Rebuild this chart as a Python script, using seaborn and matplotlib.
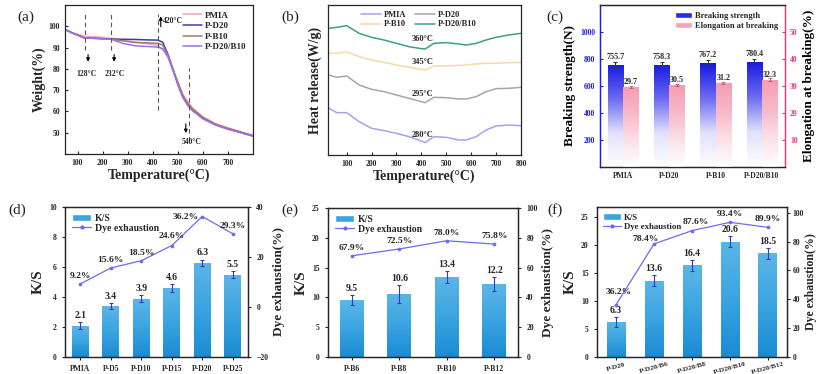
import numpy as np
import pandas as pd
import matplotlib
matplotlib.use('Agg')
import matplotlib.pyplot as plt
import seaborn as sns
from matplotlib.colors import LinearSegmentedColormap
from matplotlib.patches import Patch
from matplotlib.lines import Line2D

# ------------------------- data -------------------------
series_names = ['PMIA', 'P-D20', 'P-B10', 'P-D20/B10']

# (a) TGA
tga_temp = [50, 80, 128, 180, 232, 280, 330, 380, 420, 440, 460, 480, 500, 520, 540, 560, 600, 650, 700, 750, 800]
tga_pmia = [98.5, 97.0, 95.3, 95.0, 94.4, 93.5, 92.5, 91.8, 91.0, 89.0, 85.5, 80.0, 74.0, 68.0, 64.5, 61.5, 57.5, 54.3, 52.3, 50.5, 48.7]
tga_d20 = [98.5, 96.8, 94.5, 94.3, 94.0, 93.9, 93.8, 93.6, 93.5, 92.5, 87.0, 80.0, 73.0, 67.0, 63.0, 60.5, 56.8, 53.8, 51.8, 50.2, 48.5]
tga_b10 = [98.5, 96.8, 94.5, 94.3, 94.0, 93.2, 92.4, 92.2, 92.0, 91.2, 86.5, 80.0, 73.5, 67.5, 63.8, 61.0, 57.2, 54.0, 52.0, 50.3, 48.6]
tga_d20b10 = [98.5, 96.8, 94.5, 94.3, 94.0, 92.0, 90.8, 90.5, 90.2, 89.5, 86.0, 79.5, 72.5, 66.5, 62.8, 60.2, 56.5, 53.6, 51.6, 50.0, 48.3]

# (b) DSC heat release (arbitrary offset units)
dsc_temp = [30, 60, 100, 150, 200, 250, 300, 350, 400, 415, 450, 500, 550, 580, 620, 660, 700, 750, 800]
dsc_pmia = [1.45, 1.32, 1.32, 1.05, 0.85, 0.78, 0.70, 0.60, 0.47, 0.42, 0.60, 0.58, 0.50, 0.50, 0.60, 0.80, 0.92, 0.95, 0.93]
dsc_d20 = [2.45, 2.38, 2.42, 2.15, 2.02, 1.95, 1.85, 1.75, 1.65, 1.62, 1.78, 1.77, 1.73, 1.73, 1.80, 1.95, 2.04, 2.05, 2.08]
dsc_b10 = [3.10, 3.10, 3.15, 3.00, 2.90, 2.83, 2.75, 2.68, 2.62, 2.60, 2.72, 2.72, 2.74, 2.75, 2.78, 2.80, 2.80, 2.82, 2.83]
dsc_d20b10 = [3.85, 3.88, 3.93, 3.70, 3.58, 3.50, 3.40, 3.30, 3.24, 3.23, 3.40, 3.42, 3.38, 3.35, 3.40, 3.50, 3.58, 3.65, 3.70]
dsc_peak_labels = ['280°C', '295°C', '345°C', '360°C']

# (c) mechanical
c_samples = ['PMIA', 'P-D20', 'P-B10', 'P-D20/B10']
c_strength = [755.7, 758.3, 767.2, 780.4]
c_strength_err = [22, 20, 28, 22]
c_elong = [29.7, 30.5, 31.2, 32.3]
c_elong_err = [0.4, 0.4, 0.4, 0.5]

# (d)
d_samples = ['PMIA', 'P-D5', 'P-D10', 'P-D15', 'P-D20', 'P-D25']
d_ks = [2.1, 3.4, 3.9, 4.6, 6.3, 5.5]
d_ks_err = [0.25, 0.22, 0.22, 0.25, 0.2, 0.25]
d_de = [9.2, 15.6, 18.5, 24.6, 36.2, 29.3]

# (e)
e_samples = ['P-B6', 'P-B8', 'P-B10', 'P-B12']
e_ks = [9.5, 10.6, 13.4, 12.2]
e_ks_err = [0.85, 1.5, 1.0, 1.2]
e_de = [67.9, 72.5, 78.0, 75.8]

# (f)
f_samples = ['P-D20', 'P-D20/B6', 'P-D20/B8', 'P-D20/B10', 'P-D20/B12']
f_ks = [6.3, 13.6, 16.4, 20.6, 18.5]
f_ks_err = [0.9, 1.0, 1.0, 1.0, 1.0]
f_de = [36.2, 78.4, 87.6, 93.4, 89.9]

# ------------------------- style -------------------------
sns.set_style('ticks')
plt.rcParams['font.family'] = ['Liberation Serif', 'DejaVu Serif']
plt.rcParams['font.weight'] = 'bold'
plt.rcParams['axes.labelweight'] = 'bold'
plt.rcParams['axes.linewidth'] = 0.9
plt.rcParams['xtick.labelsize'] = 5.5
plt.rcParams['ytick.labelsize'] = 5.5
plt.rcParams['xtick.major.size'] = 2.5
plt.rcParams['ytick.major.size'] = 2.5
plt.rcParams['xtick.major.width'] = 0.8
plt.rcParams['ytick.major.width'] = 0.8

W, H = 816, 374
fig = plt.figure(figsize=(W / 100, H / 100), dpi=100)


def px_axes(x0, y0, x1, y1):
    return fig.add_axes([x0 / W, 1 - y1 / H, (x1 - x0) / W, (y1 - y0) / H])


def gradient_bars(ax, patches, colors):
    cmap = LinearSegmentedColormap.from_list('g', colors)
    grad = np.linspace(0, 1, 256).reshape(-1, 1)
    for p in patches:
        x0, y0, w, h = p.get_x(), p.get_y(), p.get_width(), p.get_height()
        if not np.isfinite(h) or h == 0:
            continue
        im = ax.imshow(grad, extent=[x0, x0 + w, y0, y0 + h], origin='lower',
                       cmap=cmap, aspect='auto', zorder=p.get_zorder(),
                       interpolation='bilinear')
        im.set_clip_path(p)
        p.set_facecolor('none')
        p.set_edgecolor('none')


TXT = dict(fontweight='bold')

# ------------------------- (a) -------------------------
axa = px_axes(65, 5, 253, 154)
tga_colors = {'PMIA': '#f3a6b6', 'P-D20': '#3b3bab', 'P-B10': '#a07868', 'P-D20/B10': '#9a72e6'}
df_a = pd.DataFrame({
    'T': tga_temp * 4,
    'W': tga_pmia + tga_d20 + tga_b10 + tga_d20b10,
    's': sum([[n] * len(tga_temp) for n in series_names], []),
})
sns.lineplot(data=df_a, x='T', y='W', hue='s', hue_order=series_names, palette=tga_colors,
             linewidth=1.1, ax=axa, legend=False)
axa.set_xlim(50, 800)
axa.set_ylim(40, 110)
axa.set_xticks(range(100, 701, 100))
axa.set_yticks(range(50, 101, 10))
axa.tick_params(direction='in')
axa.set_xlabel('Temperature(°C)', fontsize=10, labelpad=1)
axa.set_ylabel('Weight(%)', fontsize=10, labelpad=2)
dash = dict(color='#555555', linestyle=(0, (4, 3)), linewidth=0.8)
for xv, y0, y1 in [(128, 89, 106), (232, 89, 106), (420, 60.5, 106), (545, 46, 80.5)]:
    axa.plot([xv, xv], [y0, y1], **dash)
arr = dict(arrowstyle='-|>', color='black', lw=0.8, mutation_scale=5)
axa.annotate('', xy=(142, 82), xytext=(142, 88), arrowprops=arr)
axa.annotate('', xy=(246, 82), xytext=(246, 88), arrowprops=arr)
axa.annotate('', xy=(432, 106), xytext=(432, 98.5), arrowprops=arr)
axa.annotate('', xy=(532, 48.5), xytext=(532, 55.5), arrowprops=arr)
axa.text(136, 77.5, '128°C', fontsize=5.5, ha='center', va='center', **TXT)
axa.text(248, 77.5, '232°C', fontsize=5.5, ha='center', va='center', **TXT)
axa.text(440, 102.5, '420°C', fontsize=5.5, ha='left', va='center', **TXT)
axa.text(555, 45.5, '540°C', fontsize=5.5, ha='center', va='center', **TXT)
handles_a = [Line2D([], [], color=tga_colors[n], lw=1.1) for n in series_names]
axa.legend(handles_a, series_names, loc='upper right', frameon=False,
           handlelength=2.2, handletextpad=0.3, labelspacing=0.25, borderaxespad=0.3,
           prop={'weight': 'bold', 'size': 6.5})
fig.text(17 / W, 1 - 17 / H, '(a)', fontsize=11, fontweight='normal', ha='left', va='center')

# ------------------------- (b) -------------------------
axb = px_axes(328, 5, 521, 155)
dsc_colors = {'PMIA': '#a3a3f2', 'P-D20': '#a6a6a6', 'P-B10': '#f7d9a6', 'P-D20/B10': '#3f9d8c'}
df_b = pd.DataFrame({
    'T': dsc_temp * 4,
    'Q': dsc_pmia + dsc_d20 + dsc_b10 + dsc_d20b10,
    's': sum([[n] * len(dsc_temp) for n in series_names], []),
})
sns.lineplot(data=df_b, x='T', y='Q', hue='s', hue_order=series_names, palette=dsc_colors,
             linewidth=1.1, ax=axb, legend=False)
axb.set_xlim(25, 800)
axb.set_ylim(0.05, 4.55)
axb.set_xticks(range(100, 801, 100))
axb.set_yticks([])
axb.tick_params(direction='in')
axb.set_xlabel('Temperature(°C)', fontsize=10, labelpad=1)
axb.set_ylabel('Heat release(W/g)', fontsize=10, labelpad=4)
for lab, yv in zip(dsc_peak_labels, [0.65, 1.88, 2.85, 3.52]):
    axb.text(405, yv, lab, fontsize=6, ha='center', va='center', **TXT)
order_b = ['PMIA', 'P-B10', 'P-D20', 'P-D20/B10']
handles_b = [Line2D([], [], color=dsc_colors[n], lw=1.1) for n in order_b]
axb.legend(handles_b, order_b, loc='upper center', ncol=2, frameon=False,
           handlelength=2.4, handletextpad=0.4, columnspacing=1.0, labelspacing=0.2,
           borderaxespad=0.3, bbox_to_anchor=(0.47, 1.0), prop={'weight': 'bold', 'size': 6})
fig.text(290 / W, 1 - 17 / H, '(b)', fontsize=11, fontweight='normal', ha='center', va='center')

# ------------------------- (c) -------------------------
axc = px_axes(600, 5, 785, 167)
metrics = ['Breaking strength', 'Elongation at breaking']
blue_c, pink_c = '#1d1de6', '#e8387a'
df_c = pd.DataFrame({'sample': c_samples * 2,
                     'metric': [metrics[0]] * 4 + [metrics[1]] * 4,
                     'value': c_strength + c_elong})
pal_c = {metrics[0]: '#2a2af0', metrics[1]: '#f5a3b8'}
sns.barplot(data=df_c[df_c.metric == metrics[0]], x='sample', y='value', hue='metric',
            hue_order=metrics, order=c_samples, palette=pal_c, width=0.66, dodge=True,
            errorbar=None, legend=False, ax=axc)
axc2 = axc.twinx()
sns.barplot(data=df_c[df_c.metric == metrics[1]], x='sample', y='value', hue='metric',
            hue_order=metrics, order=c_samples, palette=pal_c, width=0.66, dodge=True,
            errorbar=None, legend=False, ax=axc2)
bars_c1 = [p for p in axc.patches if np.isfinite(p.get_height()) and p.get_height() > 0]
bars_c2 = [p for p in axc2.patches if np.isfinite(p.get_height()) and p.get_height() > 0]
gradient_bars(axc, bars_c1, ['#ffffff', '#e0e0fb', '#6a6af2', '#1818e2'])
gradient_bars(axc2, bars_c2, ['#ffffff', '#fbe0e8', '#f7b8c8', '#f59bb2'])
xc1 = [p.get_x() + p.get_width() / 2 for p in bars_c1]
xc2 = [p.get_x() + p.get_width() / 2 for p in bars_c2]
axc.errorbar(xc1, c_strength, yerr=c_strength_err, fmt='none', ecolor='#1f4a1f', elinewidth=0.8, capsize=1.5, capthick=0.8)
axc2.errorbar(xc2, c_elong, yerr=c_elong_err, fmt='none', ecolor='#c05070', elinewidth=0.6, capsize=1.2, capthick=0.6)
for x, v, e in zip(xc1, c_strength, c_strength_err):
    axc.text(x, v + e + 5, f'{v:.1f}', fontsize=5.8, ha='center', va='bottom', **TXT)
for x, v, e in zip(xc2, c_elong, c_elong_err):
    axc2.text(x, v + 0.4, f'{v:.1f}', fontsize=5.8, ha='center', va='bottom', **TXT)
axc.set_xlim(-0.5, 3.5)
axc.set_ylim(0, 1200)
axc2.set_ylim(0, 60)
axc.set_yticks([200, 400, 600, 800, 1000])
axc2.set_yticks([10, 20, 30, 40, 50])
axc.tick_params(axis='y', colors=blue_c, direction='in')
axc2.tick_params(axis='y', colors=pink_c, direction='in')
axc.tick_params(axis='x', direction='in')
axc2.spines['left'].set_color(blue_c)
axc2.spines['right'].set_color(pink_c)
axc.spines['left'].set_color(blue_c)
axc.spines['right'].set_color(pink_c)
axc.set_xlabel('')
axc2.set_xlabel('')
axc.set_ylabel('Breaking strength(N)', fontsize=9.5, labelpad=3, color='black')
axc2.set_ylabel('Elongation at breaking(%)', fontsize=9.5, labelpad=4, color='black')
handles_c = [Patch(facecolor=pal_c[m]) for m in metrics]
axc2.legend(handles_c, metrics, loc='upper right', frameon=False, handlelength=2.0,
            handleheight=0.7, handletextpad=0.4, labelspacing=0.3, borderaxespad=0.4,
            prop={'weight': 'bold', 'size': 6})
fig.text(555 / W, 1 - 17 / H, '(c)', fontsize=11, fontweight='normal', ha='center', va='center')

# ------------------------- (d)-(f) -------------------------
bar_grad = ['#1a8bd4', '#3ba4e0', '#5cb6e6']
line_c = '#6c6cf0'


def dye_panel(rect, samples, ks, ks_err, de, ylim_l, yt_l, ylim_r, yt_r, width, label, lab_pos,
              de_offsets, rot=0, rlabelpad=3, rlabelsize=9.5, legsize=7, rpad=3.5):
    ax = px_axes(*rect)
    df = pd.DataFrame({'sample': samples, 'ks': ks, 'de': de})
    sns.barplot(data=df, x='sample', y='ks', order=samples, color=bar_grad[1], width=width,
                errorbar=None, ax=ax)
    bars = [p for p in ax.patches]
    gradient_bars(ax, bars, bar_grad)
    xs = [p.get_x() + p.get_width() / 2 for p in bars]
    ax.errorbar(xs, ks, yerr=ks_err, fmt='none', ecolor='#2b3fc0', elinewidth=0.8,
                capsize=1.6, capthick=0.8, zorder=4)
    for x, v, e in zip(xs, ks, ks_err):
        ax.annotate(f'{v:.1f}', (x, v + e), xytext=(0, 1.5), textcoords='offset points',
                    fontsize=7, ha='center', va='bottom', **TXT)
    ax2 = ax.twinx()
    sns.pointplot(data=df, x='sample', y='de', order=samples, color=line_c, markers='o',
                  markersize=2, linewidth=0.9, errorbar=None, ax=ax2)
    for i, v in enumerate(de):
        dx, dy = de_offsets.get(i, (0, 3))
        ax2.annotate(f'{v:.1f}%', (i, v), xytext=(dx, dy), textcoords='offset points',
                     fontsize=6.8, ha='center', va='bottom', **TXT)
    ax.set_xlim(-0.5, len(samples) - 0.5)
    ax.set_ylim(*ylim_l)
    ax.set_yticks(yt_l)
    ax2.set_ylim(*ylim_r)
    ax2.set_yticks(yt_r)
    ax2.tick_params(axis='y', pad=rpad)
    ax.set_xlabel('')
    ax2.set_xlabel('')
    ax.set_ylabel('K/S', fontsize=11, labelpad=3)
    ax2.set_ylabel('Dye exhaustion(%)', fontsize=rlabelsize, labelpad=rlabelpad)
    if rot:
        plt.setp(ax.get_xticklabels(), rotation=rot, ha='center', fontsize=5.2)
        ax.tick_params(axis='x', pad=1)
    handles = [Patch(facecolor=bar_grad[1]),
               Line2D([], [], color=line_c, marker='o', markersize=2, lw=0.9)]
    ax2.legend(handles, ['K/S', 'Dye exhaustion'], loc='upper left', frameon=False,
               handlelength=2.0, handleheight=0.8, handletextpad=0.4, labelspacing=0.1,
               borderaxespad=0.3, prop={'weight': 'bold', 'size': legsize})
    fig.text(lab_pos[0] / W, 1 - lab_pos[1] / H, label, fontsize=11, fontweight='normal',
             ha='center', va='center')
    return ax, ax2


dye_panel((65, 207, 248, 357), d_samples, d_ks, d_ks_err, d_de,
          (0, 10), [0, 2, 4, 6, 8, 10], (-20, 40), [-20, 0, 20, 40], 0.55, '(d)', (17, 210),
          {4: (-12, -3), 3: (0, 4)})
dye_panel((328, 208, 518, 357), e_samples, e_ks, e_ks_err, e_de,
          (0, 25), [0, 5, 10, 15, 20, 25], (0, 100), [0, 20, 40, 60, 80, 100], 0.5, '(e)', (290, 210),
          {})
dye_panel((597, 207, 787, 357), f_samples, f_ks, f_ks_err, f_de,
          (0, 26.8), [0, 5, 10, 15, 20, 25], (0, 104), [0, 20, 40, 60, 80, 100], 0.5, '(f)', (555, 210),
          {0: (2, 6), 1: (-6, 1), 2: (3, 3)}, rot=15, rlabelpad=0.5, rlabelsize=8.5, legsize=6.3,
          rpad=1.5)

fig.savefig('out.png', dpi=100)
